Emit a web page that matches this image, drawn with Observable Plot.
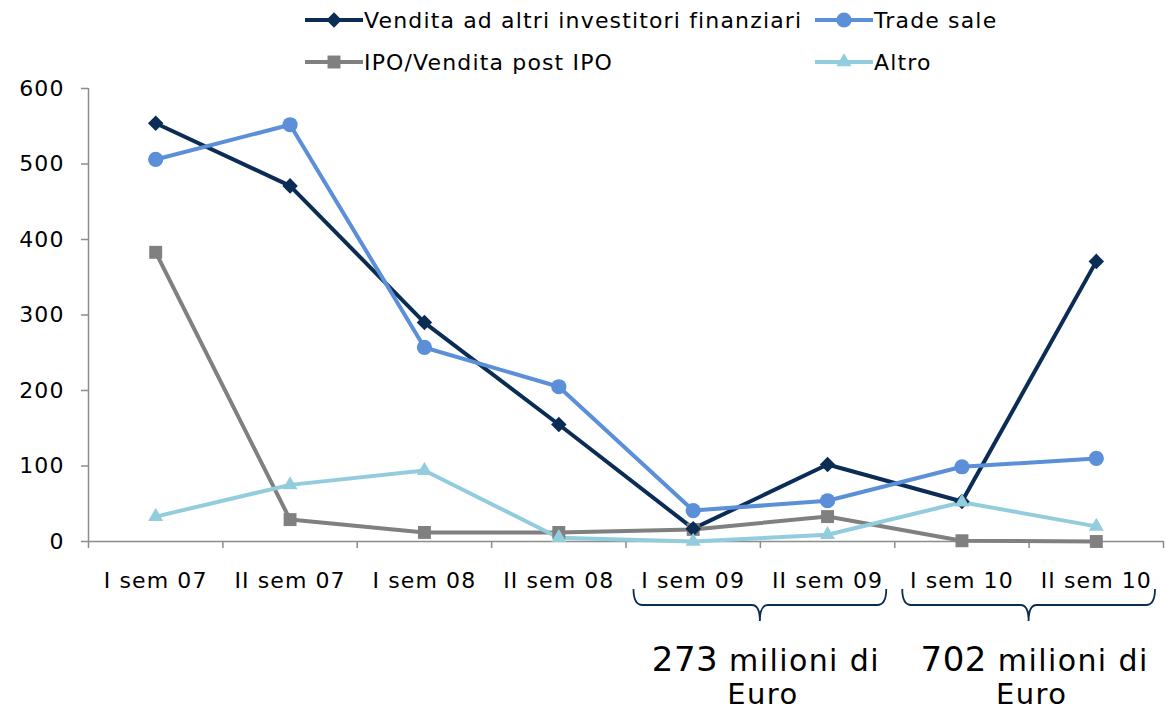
<!DOCTYPE html>
<html>
<head>
<meta charset="utf-8">
<script src="https://cdn.jsdelivr.net/npm/d3@7"></script>
<script src="https://cdn.jsdelivr.net/npm/@observablehq/plot@0.6"></script>
<style>
  html, body { margin: 0; padding: 0; background: #fff; }
  #wrap { position: relative; width: 1165px; height: 712px; font-family: "DejaVu Sans", sans-serif; }
  #legend { position: absolute; left: 0; top: 0; width: 1165px; height: 88px; }
  .item { position: absolute; display: flex; align-items: center; font-size: 22px; letter-spacing: 1.15px; color: #000; white-space: nowrap; }
  svg text { letter-spacing: 1.1px; }
</style>
</head>
<body>
<div id="wrap">
  <div id="chart"></div>
  <div id="legend"></div>
</div>
<script>
const categories = ["I sem 07", "II sem 07", "I sem 08", "II sem 08", "I sem 09", "II sem 09", "I sem 10", "II sem 10"];
const seriesNames = ["Vendita ad altri investitori finanziari", "Trade sale", "IPO/Vendita post IPO", "Altro"];
const vendita = [554, 471, 290, 155, 17, 102, 53, 371];
const tradeSale = [506, 552, 257, 205, 41, 54, 99, 110];
const ipo = [383, 29, 12, 12, 16, 33, 1, 0];
const altro = [33, 75, 94, 5, 0, 9, 52, 20];
const colors = ["#0b2d55", "#5b8fd8", "#808080", "#93cddd"];
const yTicks = [0, 100, 200, 300, 400, 500, 600];
const groups = [
  {from: 4, to: 5, big: "273", rest: " milioni di", line2: "Euro"},
  {from: 6, to: 7, big: "702", rest: " milioni di", line2: "Euro"}
];

// square diamond (rotated square)
const diamondSym = {
  draw(context, size) {
    const s = Math.sqrt(size / 2);
    context.moveTo(0, -s);
    context.lineTo(s, 0);
    context.lineTo(0, s);
    context.lineTo(-s, 0);
    context.closePath();
  }
};
const symbols = [diamondSym, d3.symbolCircle, d3.symbolSquare, d3.symbolTriangle];
const markerR = [6.2, 7.6, 7.3, 5.6];

const allSeries = [vendita, tradeSale, ipo, altro];
const data = [];
allSeries.forEach((vals, s) => vals.forEach((v, i) => data.push({i, cat: categories[i], value: v, series: seriesNames[s], r: markerR[s]})));

const boundaries = d3.range(categories.length + 1).map(k => k - 0.5);
const FONT = "'DejaVu Sans', sans-serif";

const chart = Plot.plot({
  width: 1165,
  height: 712,
  marginLeft: 88,
  marginRight: 2,
  marginTop: 88,
  marginBottom: 171,
  style: {fontFamily: FONT, fontSize: "22px", color: "#000", background: "#fff"},
  x: {domain: [-0.5, categories.length - 0.5], axis: null},
  y: {domain: [0, 600], axis: null},
  r: {type: "identity"},
  color: {domain: seriesNames, range: colors},
  symbol: {domain: seriesNames, range: symbols},
  marks: [
    Plot.ruleX([-0.5], {stroke: "#8c8c8c", strokeWidth: 1.5}),
    Plot.ruleY([0], {stroke: "#8c8c8c", strokeWidth: 1.5}),
    Plot.axisY({ticks: yTicks, tickSize: 7, tickPadding: 17, stroke: "#8c8c8c", strokeWidth: 1.5, strokeOpacity: 1, fill: "#000", fontSize: 22, label: null, tickFormat: d => String(d)}),
    Plot.axisX({ticks: boundaries, tickSize: 7, tickFormat: () => "", stroke: "#8c8c8c", strokeWidth: 1.5, strokeOpacity: 1, label: null}),
    Plot.axisX({ticks: d3.range(categories.length), tickSize: 0, tickPadding: 31, tickFormat: i => categories[i], fill: "#000", fontSize: 22, label: null}),
    Plot.line(data, {x: "i", y: "value", stroke: "series", z: "series", strokeWidth: 4}),
    Plot.dot(data, {x: "i", y: "value", fill: "series", symbol: "series", r: "r", stroke: "none"})
  ]
});
document.getElementById("chart").appendChild(chart);

// brackets and annotations
const xs = chart.scale("x");
const svg = d3.select(chart);
const g = svg.append("g");
groups.forEach(gr => {
  const x0 = xs.apply(gr.from - 0.5) + 8;
  const x1 = xs.apply(gr.to + 0.5) - 8;
  const cx = (xs.apply(gr.from - 0.5) + xs.apply(gr.to + 0.5)) / 2;
  const y0 = 589, y1 = 605, tip = 621;
  g.append("path")
    .attr("d", `M${x0},${y0} Q${x0},${y1} ${x0 + 9},${y1} L${cx - 8},${y1} Q${cx},${y1} ${cx},${tip} Q${cx},${y1} ${cx + 8},${y1} L${x1 - 9},${y1} Q${x1},${y1} ${x1},${y0}`)
    .attr("fill", "none").attr("stroke", "#0b2d55").attr("stroke-width", 1.8);
  const t = g.append("text").attr("x", cx + 6).attr("y", 671).attr("text-anchor", "middle")
    .attr("font-family", FONT).attr("fill", "#000");
  t.append("tspan").attr("font-size", 34).style("letter-spacing", "0.5px").text(gr.big);
  t.append("tspan").attr("font-size", 30).style("letter-spacing", "1.4px").text(gr.rest);
  g.append("text").attr("x", cx + 3).attr("y", 704).attr("text-anchor", "middle")
    .attr("font-family", FONT).attr("font-size", 29).style("letter-spacing", "1.4px").attr("fill", "#000").text(gr.line2);
});

// legend
const legendPos = [[305, 20], [815, 20], [305, 62], [815, 62]];
const legend = document.getElementById("legend");
seriesNames.forEach((name, s) => {
  const div = document.createElement("div");
  div.className = "item";
  div.style.left = legendPos[s][0] + "px";
  div.style.top = (legendPos[s][1] - 15) + "px";
  div.style.height = "30px";
  const sym = d3.symbol(symbols[s], Math.PI * markerR[s] * markerR[s])();
  div.innerHTML = `<svg width="58" height="30" style="margin-right:1px"><line x1="0" x2="58" y1="15" y2="15" stroke="${colors[s]}" stroke-width="4"/><path transform="translate(29,15)" d="${sym}" fill="${colors[s]}"/></svg><span>${name}</span>`;
  legend.appendChild(div);
});
</script>
</body>
</html>
